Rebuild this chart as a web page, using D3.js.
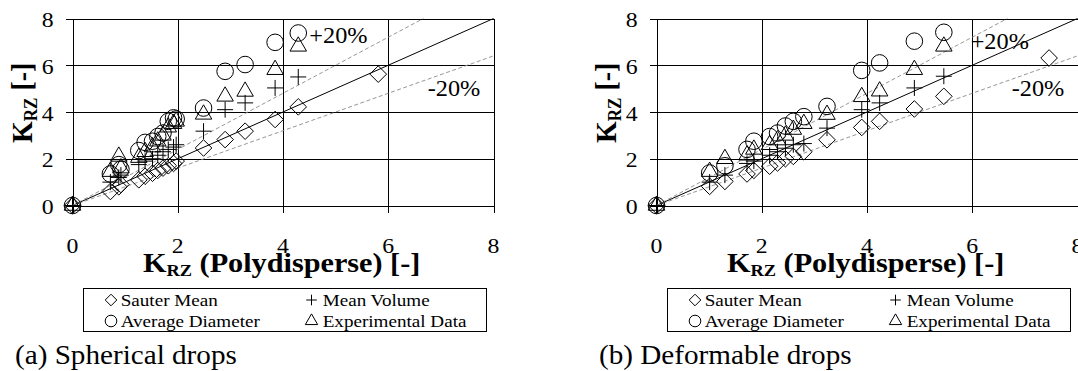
<!DOCTYPE html>
<html>
<head>
<meta charset="utf-8">
<script src="https://cdn.jsdelivr.net/npm/d3@7"></script>
</head>
<body style="margin:0;background:#fff">
<div id="holder"></div>
<script>
const w = 1078;
const h = 371;

// AXIS TICKS (both axes, both panels)
const ticks = [0, 2, 4, 6, 8];

// REFERENCE LINES y = k * x  (exact, +20%, -20%)
const refSlopes = [1, 1.2, 0.8];

// LEGEND / SERIES NAMES
const seriesNames = ["Sauter Mean", "Mean Volume", "Average Diameter", "Experimental Data"];

// (a) SPHERICAL DROPS  [K_RZ polydisperse, K_RZ model]
const sphSauter = [[0,0],[0.72,0.6],[0.88,0.8],[0.92,0.9],[1.26,1.1],[1.38,1.25],[1.52,1.38],[1.62,1.5],[1.72,1.6],[1.82,1.7],[1.92,1.8],[1.97,1.9],[2.49,2.46],[2.9,2.82],[3.28,3.18],[3.85,3.68],[4.29,4.22],[5.81,5.62]];
const sphMeanVol = [[0,0],[0.72,1.0],[0.88,1.2],[0.92,1.3],[1.26,1.75],[1.38,1.9],[1.52,2.0],[1.62,2.15],[1.72,2.3],[1.82,2.4],[1.92,2.5],[1.97,2.6],[2.49,3.18],[2.9,4.1],[3.28,4.39],[3.85,5.03],[4.29,5.5]];
const sphAvgDia = [[0,0],[0.72,1.35],[0.88,1.75],[0.92,1.55],[1.26,2.35],[1.38,2.7],[1.52,2.75],[1.62,2.95],[1.72,3.1],[1.82,3.6],[1.92,3.75],[1.97,3.7],[2.49,4.17],[2.9,5.74],[3.28,6.03],[3.85,6.98],[4.29,7.38]];
const sphExp = [[0,0],[0.72,1.45],[0.88,2.1],[0.92,1.6],[1.26,2.05],[1.38,2.3],[1.52,2.5],[1.62,2.75],[1.72,3.0],[1.82,3.35],[1.92,3.5],[1.97,3.6],[2.49,3.9],[2.9,4.67],[3.28,4.88],[3.85,5.81],[4.29,6.81]];

// (b) DEFORMABLE DROPS
const defSauter = [[0,0],[1.01,0.82],[1.3,1.03],[1.72,1.35],[1.85,1.5],[2.15,1.68],[2.3,1.82],[2.45,2.0],[2.6,2.1],[2.8,2.3],[3.24,2.81],[3.9,3.34],[4.24,3.6],[4.9,4.13],[5.46,4.67],[7.46,6.31]];
const defMeanVol = [[0,0],[1.01,1.0],[1.3,1.3],[1.72,1.8],[1.85,1.9],[2.15,2.15],[2.3,2.3],[2.45,2.45],[2.6,2.6],[2.8,2.65],[3.24,3.31],[3.9,4.1],[4.24,4.39],[4.9,5.03],[5.46,5.53]];
const defAvgDia = [[0,0],[1.01,1.39],[1.3,1.7],[1.72,2.4],[1.85,2.75],[2.15,2.95],[2.3,3.1],[2.45,3.4],[2.6,3.6],[2.8,3.8],[3.24,4.24],[3.9,5.78],[4.24,6.1],[4.9,7.03],[5.46,7.41]];
const defExp = [[0,0],[1.01,1.45],[1.3,2.0],[1.72,2.15],[1.85,2.4],[2.15,2.6],[2.3,2.8],[2.45,3.0],[2.6,3.25],[2.8,3.5],[3.24,3.89],[3.9,4.65],[4.24,4.89],[4.9,5.81],[5.46,6.81]];

// the original figure is slightly stretched sideways, so is the text
const SX = 1.08;
const FONT = '"Liberation Serif"';

// CUSTOM SYMBOLS (open diamond and thin plus)
const diamondType = {
    draw(ctx, size) {
        const r = Math.sqrt(size) / 2;
        ctx.moveTo(0, -r); ctx.lineTo(r, 0); ctx.lineTo(0, r); ctx.lineTo(-r, 0); ctx.closePath();
    }
};
const plusType = {
    draw(ctx, size) {
        const r = Math.sqrt(size) / 2;
        ctx.moveTo(-r, 0); ctx.lineTo(r, 0); ctx.moveTo(0, -r); ctx.lineTo(0, r);
    }
};
const symTypes = [diamondType, plusType, d3.symbolCircle, d3.symbolTriangle];
const symSizes = [276, 256, 216, 118];
const legSizes = [135, 112, 106, 66];

// CREATE SVG
const svg = d3.select("#holder")
    .append("svg")
    .attr("width", w)
    .attr("height", h)
    .style("display", "block");

function stext(g, x, y, str, size, opts = {}) {
    return g.append("text")
        .attr("transform", `translate(${x},${y}) scale(${SX},1)` + (opts.rotate ? ` rotate(${opts.rotate})` : ""))
        .style("font-family", FONT)
        .style("font-size", size + "px")
        .style("font-weight", opts.bold ? "bold" : "normal")
        .attr("text-anchor", opts.anchor || "start")
        .attr("fill", "#000")
        .text(str);
}

function krzLabel(t, rest) {
    t.append("tspan").text("K");
    t.append("tspan").style("font-size", "17px").attr("dy", 4.5).text("RZ");
    t.append("tspan").style("font-size", "28px").attr("dy", -4.5).text(rest);
}

function panel(ox, sets, caption, plusLbl, minusLbl) {
    const g = svg.append("g").attr("transform", `translate(${ox},0)`);

    const x = d3.scaleLinear().domain([0, 8]).range([72.5, 493.5]);
    const y = d3.scaleLinear().domain([0, 8]).range([205.5, 18.5]);

    // GRID + TICKS
    const xAxis = d3.axisBottom(x).tickValues(ticks).tickSizeOuter(0).tickFormat("");
    const gx = g.append("g").attr("transform", `translate(0,${y(0)})`).call(xAxis);
    gx.select(".domain").remove();
    gx.selectAll("line").attr("y1", 7).attr("y2", y(8) - y(0))
        .attr("stroke", "#000").attr("shape-rendering", "crispEdges");

    const yAxis = d3.axisLeft(y).tickValues(ticks).tickSizeOuter(0).tickFormat("");
    const gy = g.append("g").attr("transform", `translate(${x(0)},0)`).call(yAxis);
    gy.select(".domain").remove();
    gy.selectAll("line").attr("x1", -7).attr("x2", x(8) - x(0))
        .attr("stroke", "#000").attr("shape-rendering", "crispEdges");

    // TICK LABELS
    ticks.forEach(t => {
        stext(g, 53.5, y(t) + 8.5, t, 22, { anchor: "end" });
        stext(g, x(t), 253, t, 22, { anchor: "middle" });
    });

    // REFERENCE LINES
    const line = d3.line().x(d => x(d[0])).y(d => y(d[1]));
    refSlopes.forEach((k, i) => {
        const xe = Math.min(8, 8 / k);
        g.append("path")
            .attr("d", line([[0, 0], [xe, k * xe]]))
            .attr("fill", "none")
            .attr("stroke", i === 0 ? "#000" : "#8a8a8a")
            .attr("stroke-width", i === 0 ? 1 : 0.9)
            .attr("stroke-dasharray", i === 0 ? null : "4,2.5");
    });

    // POINTS
    sets.forEach((data, i) => {
        g.append("g").selectAll("path")
            .data(data)
            .enter()
            .append("path")
            .attr("transform", d => `translate(${x(d[0])},${y(d[1])})`)
            .attr("d", d3.symbol().type(symTypes[i]).size(symSizes[i]))
            .attr("fill", "none")
            .attr("stroke", "#000")
            .attr("stroke-width", 1);
    });

    // +/-20% LABELS
    stext(g, x(plusLbl[0]), y(plusLbl[1]), "+20%", 22.5);
    stext(g, x(minusLbl[0]), y(minusLbl[1]), "-20%", 22.5);

    // AXIS TITLES
    krzLabel(stext(g, 143, 271.7, "", 28, { bold: true }), " (Polydisperse) [-]");
    krzLabel(stext(g, 31.7, 143, "", 28, { bold: true, rotate: -90 }), " [-]");

    // LEGEND
    g.append("rect")
        .attr("x", 83.5).attr("y", 288.5)
        .attr("width", 403).attr("height", 43)
        .attr("fill", "none").attr("stroke", "#000").attr("stroke-width", 1);
    const cols = [[111, 120.7], [311.5, 322.7]];
    const rows = [300, 321];
    seriesNames.forEach((name, i) => {
        const c = cols[i % 2], r = rows[Math.floor(i / 2)];
        g.append("path")
            .attr("transform", `translate(${c[0]},${r})`)
            .attr("d", d3.symbol().type(symTypes[i]).size(legSizes[i]))
            .attr("fill", "none").attr("stroke", "#000").attr("stroke-width", 1);
        stext(g, c[1], r + 6, name, 17.7);
    });

    // CAPTION
    stext(g, 15, 364, caption, 27);
}

panel(0, [sphSauter, sphMeanVol, sphAvgDia, sphExp], "(a) Spherical drops", [4.5, 6.97], [6.75, 4.7]);
panel(584, [defSauter, defMeanVol, defAvgDia, defExp], "(b) Deformable drops", [5.97, 6.7], [6.75, 4.67]);
</script>
</body>
</html>
